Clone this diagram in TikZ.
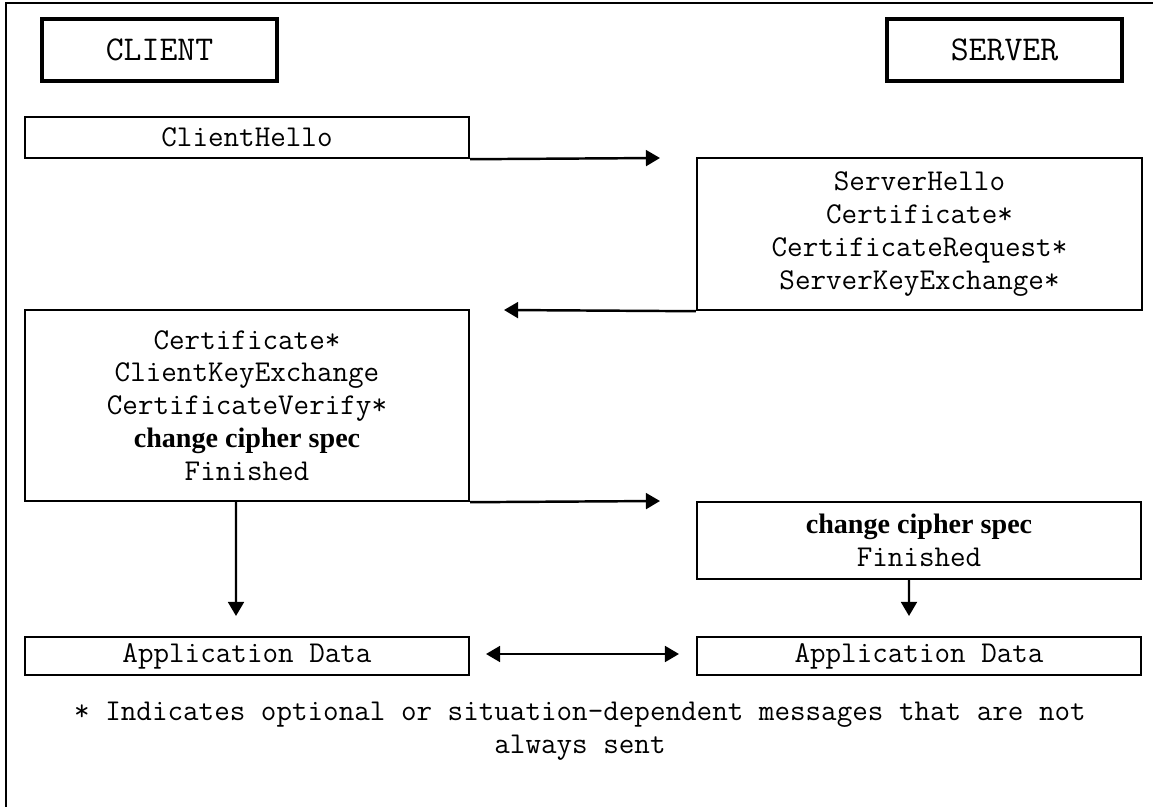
\documentclass[tikz,border=0pt]{standalone}
\usepackage{fontspec}
\usepackage{tikz}
\usetikzlibrary{positioning, arrows.meta}
\newfontfamily\ccsfont{Liberation Serif}
\newcommand{\ccs}{{\ccsfont\bfseries\fontsize{16}{18.7}\selectfont change cipher spec}}

\begin{document}
\begin{tikzpicture}[x=0.02cm, y=-0.02cm,
		line width=1.4pt,
		>={Triangle[length=8pt,width=9pt]},
		msg/.style 2 args={
			draw,
			rectangle,
			minimum width=#1,
			minimum height=#2,
			inner sep=0pt,
			align=center,
			font=\ttfamily\fontsize{17.2}{18.7}\selectfont},
		party/.style={
			draw,
			rectangle,
			line width=2.4pt,
			minimum width=4.7cm,
			minimum height=1.24cm,
			inner sep=0pt,
			font=\ttfamily\fontsize{19.8}{20}\selectfont}
		]
		\useasboundingbox (0,0) rectangle (1153,807);
		\draw[line width=1.7pt] (1153,3) -- (6,3) -- (6,807);
		\node[party] (cl) at (159.5, 50) {CLIENT};
		\node[party] (sv) at (1004.5, 50) {SERVER};
		\node[msg={8.88cm}{0.82cm}] (ch) at (247, 137.5) {ClientHello};
		\node[msg={8.9cm}{3.04cm}] (sh) at (919.5, 234) {ServerHello\\Certificate*\\CertificateRequest*\\ServerKeyExchange*};
		\node[msg={8.88cm}{3.82cm}] (ck) at (247, 405.5) {Certificate*\\ClientKeyExchange\\CertificateVerify*\\\ccs\\Finished};
		\node[msg={8.88cm}{1.54cm}] (sf) at (919, 540.5) {\ccs\\Finished};
		\node[msg={8.88cm}{0.76cm}] (ad1) at (247, 656) {Application Data};
		\node[msg={8.88cm}{0.76cm}] (ad2) at (919, 656) {Application Data};
		\node[align=center, font=\ttfamily\fontsize{17.2}{18.7}\selectfont] (nt) at (580, 731) {* Indicates optional or situation-dependent messages that are not\\always sent};
		\coordinate (a1) at (660, 158);
		\coordinate (a2) at (504, 310);
		\coordinate (a3) at (660, 501);
		\coordinate (d1) at (236, 616);
		\coordinate (d2) at (909, 616);
		\coordinate (e1) at (486, 654);
		\coordinate (e2) at (679, 654);
		\draw[->] (ch.south east) to (a1);
		\draw[->] (sh.south west) to (a2);
		\draw[->] (ck.south east) to (a3);
		\draw[->] ([xshift=-0.22cm]ck.south) to (d1);
		\draw[->] ([xshift=-0.2cm]sf.south) to (d2);
		\draw[<->] (e1) to (e2);
	\end{tikzpicture}
\end{document}
